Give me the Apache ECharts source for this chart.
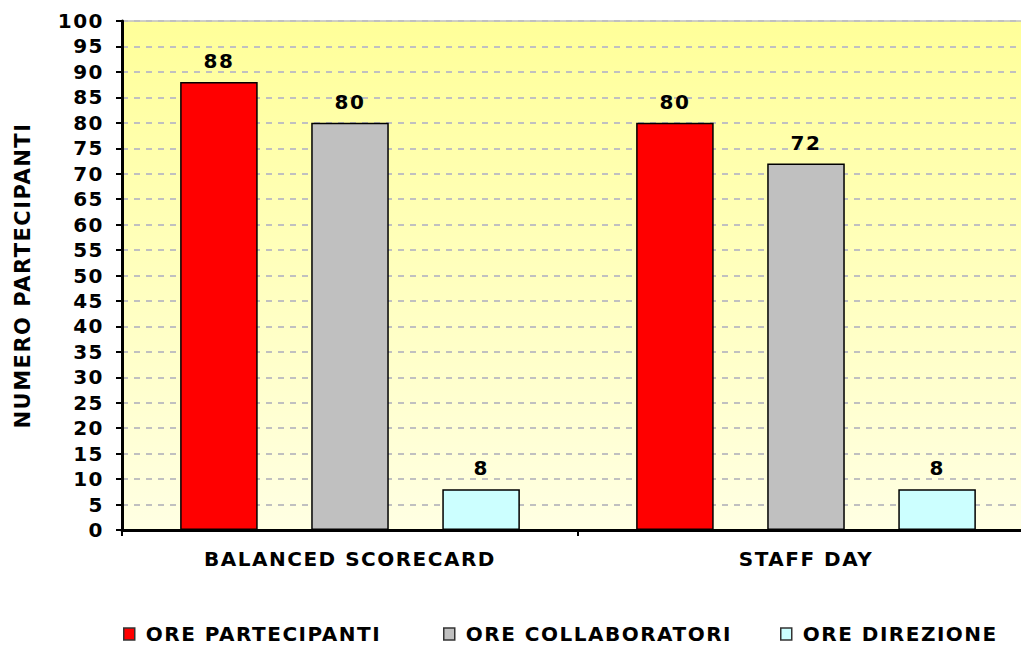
<!DOCTYPE html>
<html><head><meta charset="utf-8">
<script src="https://cdn.jsdelivr.net/npm/echarts@6/dist/echarts.min.js"></script>
<style>html,body{margin:0;padding:0;background:#fff}#c{width:1021px;height:646px}#c text{letter-spacing:1.5px}</style>
</head><body><div id="c"></div>
<script>
var categories = ['BALANCED SCORECARD', 'STAFF DAY'];
var orePartecipanti = [88, 80];
var oreCollaboratori = [80, 72];
var oreDirezione = [8, 8];
var seriesNames = ['ORE PARTECIPANTI', 'ORE COLLABORATORI', 'ORE DIREZIONE'];
var seriesColors = ['#FF0000', '#C0C0C0', '#CCFFFF'];
var yTicks = {min: 0, max: 100, interval: 5};

var font = '"DejaVu Sans", Verdana, sans-serif';
var chart = echarts.init(document.getElementById('c'), null, {renderer: 'svg'});
var values = [orePartecipanti, oreCollaboratori, oreDirezione];
var legendLefts = [123, 443, 780];
chart.setOption({
  animation: false,
  grid: {left: 122, top: 21, width: 912, height: 509, show: true, borderWidth: 1.5, borderColor: '#C0C0C0', outerBoundsMode: 'none',
    backgroundColor: {type: 'linear', x: 0, y: 0, x2: 0, y2: 1,
      colorStops: [{offset: 0, color: '#FFFF99'}, {offset: 1, color: '#FFFFE3'}]}},
  legend: seriesNames.map(function (n, i) {
    return {data: [n], left: legendLefts[i], top: 624, padding: 0, icon: 'rect', itemWidth: 11, itemHeight: 12, itemGap: 0,
      textStyle: {fontFamily: font, fontWeight: 'bold', fontSize: 20, color: '#000', padding: [0, 0, 0, 6]},
      itemStyle: {borderColor: '#333', borderWidth: 1.5}};
  }),
  xAxis: {type: 'category', data: categories,
    axisLine: {lineStyle: {color: '#000', width: 3}},
    axisTick: {show: true, length: 6, lineStyle: {color: '#000', width: 2}},
    axisLabel: {margin: 19, fontFamily: font, fontWeight: 'bold', fontSize: 20, color: '#000'}},
  yAxis: {type: 'value', min: yTicks.min, max: yTicks.max, interval: yTicks.interval,
    name: 'NUMERO PARTECIPANTI', nameLocation: 'middle', nameRotate: 90, nameGap: 89,
    nameTextStyle: {fontFamily: font, fontWeight: 'bold', fontSize: 21, color: '#000'},
    axisLine: {show: true, lineStyle: {color: '#000', width: 3}},
    axisTick: {show: true, length: 6, lineStyle: {color: '#000', width: 2}},
    axisLabel: {margin: 18, fontFamily: font, fontWeight: 'bold', fontSize: 20, color: '#000'},
    splitLine: {show: true, lineStyle: {color: '#C0C0C0', width: 2, type: [6, 6]}}},
  series: seriesNames.map(function (n, i) {
    return {name: n, type: 'bar', data: values[i], barGap: '69%', barCategoryGap: '25.5%',
      itemStyle: {color: seriesColors[i], borderColor: '#000', borderWidth: 1.5},
      label: {show: true, position: 'top', distance: 11, fontFamily: font, fontWeight: 'bold', fontSize: 20, color: '#000'}};
  })
});
</script></body></html>
